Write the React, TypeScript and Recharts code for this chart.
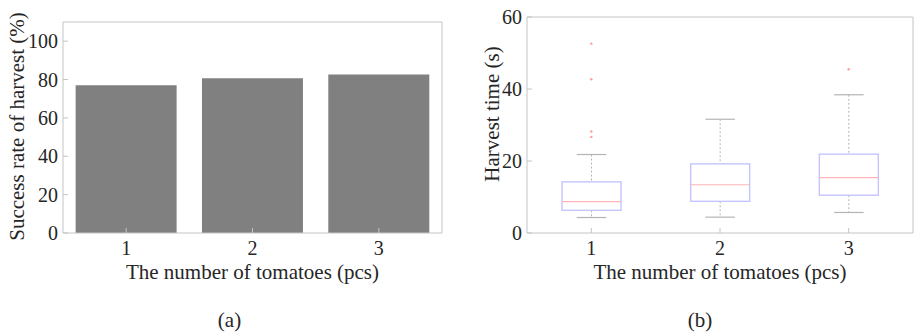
import React from "react";
import {
  BarChart,
  ComposedChart,
  Bar,
  Line,
  XAxis,
  YAxis,
  Label,
} from "recharts";

// tomatoes per cluster
const categories = ["1", "2", "3"];

// (a) success rate of harvest (%)
const successRate = [77, 80.7, 82.6];
const rateTicks = [0, 20, 40, 60, 80, 100];

// (b) harvest time box plot (s)
const whiskerLow = [4.3, 4.4, 5.7];
const quartile1 = [6.3, 8.8, 10.5];
const medians = [8.7, 13.4, 15.4];
const quartile3 = [14.2, 19.2, 21.9];
const whiskerHigh = [21.8, 31.6, 38.4];
const outliers = [[52.6, 42.7, 28.2, 26.7], [], [45.5]];
const timeTicks = [0, 20, 40, 60];

const FONT = "Liberation Serif, Times New Roman, serif";
const FRAME = "#c4c4c4";
const TEXT = "#262626";

const rateData = categories.map((c, i) => ({ cat: c, rate: successRate[i] }));

const maxOut = Math.max(...outliers.map((o) => o.length));
const boxData = categories.map((c, i) => {
  const row: any = {
    cat: c,
    low: whiskerLow[i],
    q1: quartile1[i],
    med: medians[i],
    q3: quartile3[i],
    high: whiskerHigh[i],
  };
  outliers[i].forEach((v, k) => (row["o" + k] = v));
  return row;
});

const tickStyle = { fill: TEXT, fontSize: 20, fontFamily: FONT };

function BoxShape(props: any) {
  const { x, y, width, height, payload } = props;
  const top = Math.min(y, y + height);
  const h = Math.abs(height);
  const { low, high } = payload;
  const py = (v: number) => top + (h * (high - v)) / (high - low);
  const cx = x + width / 2;
  const cap = width / 4;
  return (
    <g>
      <line x1={cx} x2={cx} y1={py(high)} y2={py(payload.q3)} stroke="#b4b4b4" strokeDasharray="2 2" />
      <line x1={cx} x2={cx} y1={py(payload.q1)} y2={py(low)} stroke="#b4b4b4" strokeDasharray="2 2" />
      <line x1={cx - cap} x2={cx + cap} y1={py(high)} y2={py(high)} stroke="#b4b4b4" strokeWidth={1.2} />
      <line x1={cx - cap} x2={cx + cap} y1={py(low)} y2={py(low)} stroke="#b4b4b4" strokeWidth={1.2} />
      <rect
        x={x}
        y={py(payload.q3)}
        width={width}
        height={py(payload.q1) - py(payload.q3)}
        fill="none"
        stroke="#c4c4ff"
        strokeWidth={1.4}
      />
      <line x1={x} x2={x + width} y1={py(payload.med)} y2={py(payload.med)} stroke="#ffb4b4" strokeWidth={1.2} />
    </g>
  );
}

function yTitle(text: string, dx: number, dy: number) {
  return (props: any) => {
    const vb = props.viewBox;
    const cx = vb.x + dx;
    const cy = vb.y + vb.height / 2 + dy;
    return (
      <text
        x={cx}
        y={cy}
        transform={`rotate(-90 ${cx} ${cy})`}
        textAnchor="middle"
        fill={TEXT}
        fontSize={21}
        fontFamily={FONT}
      >
        {text}
      </text>
    );
  };
}

function RateChart() {
  return (
    <BarChart
      width={460}
      height={290}
      data={rateData}
      margin={{ top: 21, right: 17, left: 10, bottom: 7 }}
      barCategoryGap="10%"
    >
      <XAxis
        dataKey="cat"
        stroke={FRAME}
        tickSize={-5}
        tickMargin={13}
        tick={tickStyle}
        height={50}
        label={{
          value: "The number of tomatoes (pcs)",
          position: "insideBottom",
          offset: 4,
          fill: TEXT,
          fontSize: 21,
          fontFamily: FONT,
        }}
      />
      <XAxis
        xAxisId="top"
        orientation="top"
        type="number"
        domain={[0.5, 3.5]}
        ticks={[1, 2, 3]}
        allowDataOverflow
        stroke={FRAME}
        tickSize={-5}
        tick={false}
        height={1}
      />
      <YAxis
        domain={[0, 110]}
        ticks={rateTicks}
        allowDataOverflow
        stroke={FRAME}
        tickSize={-5}
        tickMargin={10}
        tick={tickStyle}
        width={53}
      >
        <Label content={yTitle("Success rate of harvest (%)", 14, -1)} />
      </YAxis>
      <YAxis
        yAxisId="right"
        orientation="right"
        domain={[0, 110]}
        ticks={rateTicks}
        allowDataOverflow
        stroke={FRAME}
        tickSize={-5}
        tick={false}
        width={1}
      />
      <Bar dataKey="rate" fill="#808080" isAnimationActive={false} />
    </BarChart>
  );
}

function TimeChart() {
  return (
    <ComposedChart
      width={454}
      height={290}
      data={boxData}
      margin={{ top: 16, right: 0, left: 10, bottom: 7 }}
    >
      <XAxis
        dataKey="cat"
        stroke={FRAME}
        tickSize={-5}
        tickMargin={13}
        tick={tickStyle}
        height={50}
        label={{
          value: "The number of tomatoes (pcs)",
          position: "insideBottom",
          offset: 4,
          fill: TEXT,
          fontSize: 21,
          fontFamily: FONT,
        }}
      />
      <XAxis
        xAxisId="top"
        orientation="top"
        type="number"
        domain={[0.5, 3.5]}
        ticks={[1, 2, 3]}
        allowDataOverflow
        stroke={FRAME}
        tickSize={-5}
        tick={false}
        height={1}
      />
      <YAxis
        domain={[0, 60]}
        ticks={timeTicks}
        allowDataOverflow
        stroke={FRAME}
        tickSize={-5}
        tickMargin={10}
        tick={tickStyle}
        width={57}
      >
        <Label content={yTitle("Harvest time (s)", 29, -11)} />
      </YAxis>
      <YAxis
        yAxisId="right"
        orientation="right"
        domain={[0, 60]}
        ticks={timeTicks}
        allowDataOverflow
        stroke={FRAME}
        tickSize={-5}
        tick={false}
        width={1}
      />
      <Bar
        dataKey={(d: any) => [d.low, d.high]}
        barSize={59}
        shape={<BoxShape />}
        isAnimationActive={false}
      />
      {Array.from({ length: maxOut }, (_, k) => (
        <Line
          key={k}
          dataKey={"o" + k}
          stroke="none"
          dot={{ r: 1.2, fill: "#ff9a9a", stroke: "none" }}
          activeDot={false}
          legendType="none"
          isAnimationActive={false}
        />
      ))}
    </ComposedChart>
  );
}

export default function App() {
  return (
    <div
      style={{
        position: "absolute",
        left: 0,
        top: 0,
        width: 914,
        height: 332,
        background: "#fff",
        fontFamily: FONT,
      }}
    >
      <div style={{ position: "absolute", left: 0, top: 0 }}>
        <RateChart />
      </div>
      <div style={{ position: "absolute", left: 460, top: 0 }}>
        <TimeChart />
      </div>
      <svg width={914} height={42} style={{ position: "absolute", left: 0, top: 290 }}>
        <text x={229.5} y={37} textAnchor="middle" fontSize={21} fill={TEXT} fontFamily={FONT}>
          (a)
        </text>
        <text x={700} y={37} textAnchor="middle" fontSize={21} fill={TEXT} fontFamily={FONT}>
          (b)
        </text>
      </svg>
    </div>
  );
}
